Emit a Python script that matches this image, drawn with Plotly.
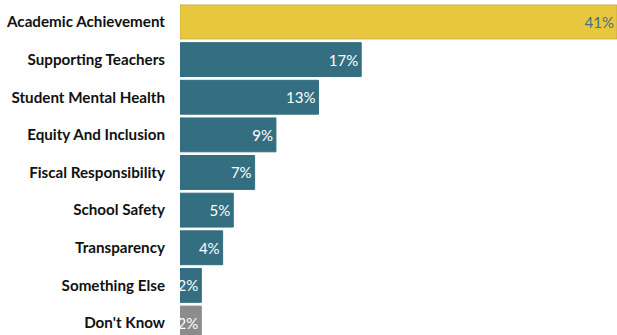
import plotly.graph_objects as go

categories = ["Academic Achievement", "Supporting Teachers", "Student Mental Health",
              "Equity And Inclusion", "Fiscal Responsibility", "School Safety",
              "Transparency", "Something Else", "Don't Know"]
values = [41, 17, 13, 9, 7, 5, 4, 2, 2]
labels = [f"{v}%" for v in values]

bar_colors = ["#E6C73D"] + ["#336F80"] * 7 + ["#8C8C8C"]
text_colors = ["#3F7385"] + ["#FFFFFF"] * 8
line_colors = ["#C9AE45"] + ["#336F80"] * 7 + ["#8C8C8C"]

fig = go.Figure(go.Bar(
    x=values, y=categories, orientation="h",
    marker=dict(color=bar_colors, line=dict(color=line_colors, width=1)),
    text=labels, textposition="inside", insidetextanchor="end",
    textangle=0, constraintext="none",
    textfont=dict(color=text_colors, size=15, family="Lato"),
    width=0.9,
))

fig.update_layout(
    width=617, height=335,
    margin=dict(l=180, r=0, t=3, b=0),
    plot_bgcolor="white", paper_bgcolor="white",
    showlegend=False,
    uniformtext=dict(minsize=15, mode="show"),
    xaxis=dict(range=[0, 41], visible=False, fixedrange=True),
    yaxis=dict(categoryorder="array", categoryarray=categories,
               range=[8.318, -0.504], showgrid=False, zeroline=False,
               showline=False, ticks="", ticklabelstandoff=14,
               tickfont=dict(family="Lato", size=15.2, color="#111111", weight="bold")),
    font=dict(family="Lato"),
)

fig.write_html("out.html")
